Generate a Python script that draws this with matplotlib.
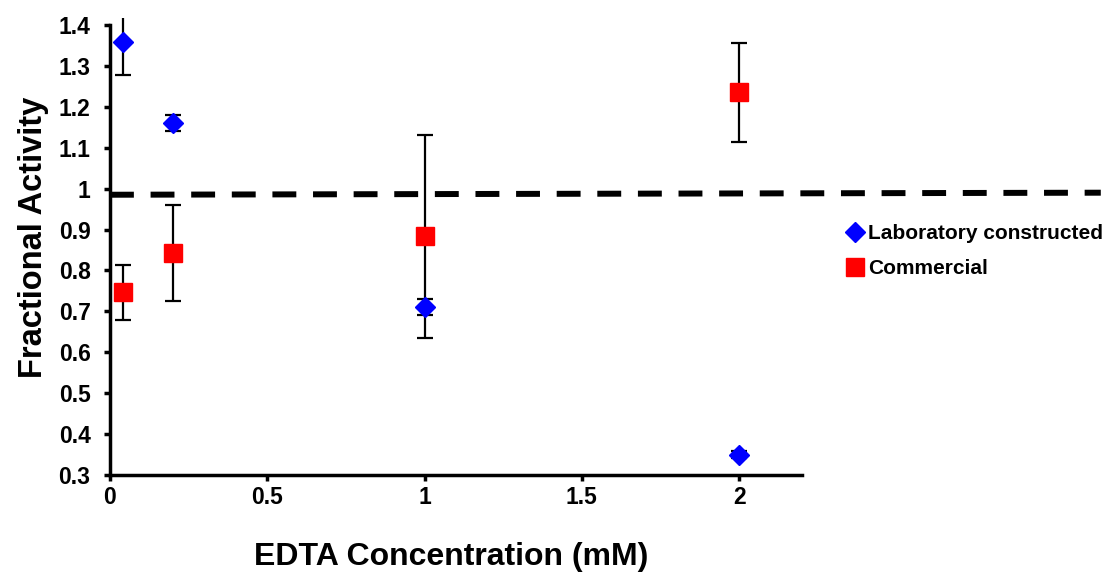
import numpy as np
import matplotlib.pyplot as plt

plt.rcParams['font.family'] = ['Liberation Sans', 'DejaVu Sans']
plt.rcParams['font.weight'] = 'bold'

# EDTA concentrations (mM)
edta = [0.04, 0.2, 1.0, 2.0]

# laboratory constructed preparation
lab_act = [1.358, 1.16, 0.71, 0.35]
lab_err = [0.08, 0.02, 0.02, 0.008]

# commercial preparation
com_act = [0.747, 0.843, 0.883, 1.235]
com_err = [0.067, 0.118, 0.247, 0.122]

# reference line (activity without EDTA)
ref_x = [0.0, 3.15]
ref_y = [0.985, 0.99]

fig = plt.figure(figsize=(11.12, 5.77), dpi=100)
ax = fig.add_axes([0.0989, 0.1768, 0.6223, 0.792])

ax.plot(ref_x, ref_y, color='black', lw=4.3, dashes=(4, 2.8), clip_on=False, zorder=1)

# error bars are clipped by the plot area
ax.errorbar(edta, com_act, yerr=com_err, fmt='none', ecolor='black', elinewidth=1.6,
            capsize=5.5, capthick=1.6, zorder=2)
ax.errorbar(edta, lab_act, yerr=lab_err, fmt='none', ecolor='black', elinewidth=1.6,
            capsize=5.5, capthick=1.6, zorder=2)
ax.plot(edta, lab_act, ls='none', marker='D', ms=10.5, color='#0000ff',
        label='Laboratory constructed', clip_on=False, zorder=3)
ax.plot(edta, com_act, ls='none', marker='s', ms=13, color='#ff0000',
        label='Commercial', clip_on=False, zorder=3)

ax.set_xlim(0, 2.2)
ax.set_ylim(0.3, 1.417)
ax.set_xticks([0, 0.5, 1, 1.5, 2])
ax.set_xticklabels(['0', '0.5', '1', '1.5', '2'])
ax.set_yticks(np.round(np.arange(0.3, 1.41, 0.1), 1))
ax.set_yticklabels(['0.3', '0.4', '0.5', '0.6', '0.7', '0.8', '0.9', '1', '1.1', '1.2', '1.3', '1.4'])

for side in ['top', 'right']:
    ax.spines[side].set_visible(False)
for side in ['left', 'bottom']:
    ax.spines[side].set_linewidth(2.5)
ax.spines['left'].set_bounds(0.3, 1.4)
ax.tick_params(width=2.5, length=4, labelsize=16.5)
ax.tick_params(axis='y', pad=10)
ax.tick_params(axis='x', pad=4)

ax.set_xlabel('EDTA Concentration (mM)', fontsize=23, fontweight='bold')
ax.set_ylabel('Fractional Activity', fontsize=23.5, fontweight='bold')
ax.xaxis.set_label_coords(0.493, -0.179)
ax.yaxis.set_label_coords(-0.111, 0.521)
ax.xaxis.label.set_va('center')
ax.yaxis.label.set_va('center')

ax.legend(loc='center left', bbox_to_anchor=(1.05, 0.49), frameon=False, fontsize=15,
          handlelength=0.8, handletextpad=0.2, labelspacing=0.75, borderpad=0)

fig.savefig('out.png', dpi=100)
